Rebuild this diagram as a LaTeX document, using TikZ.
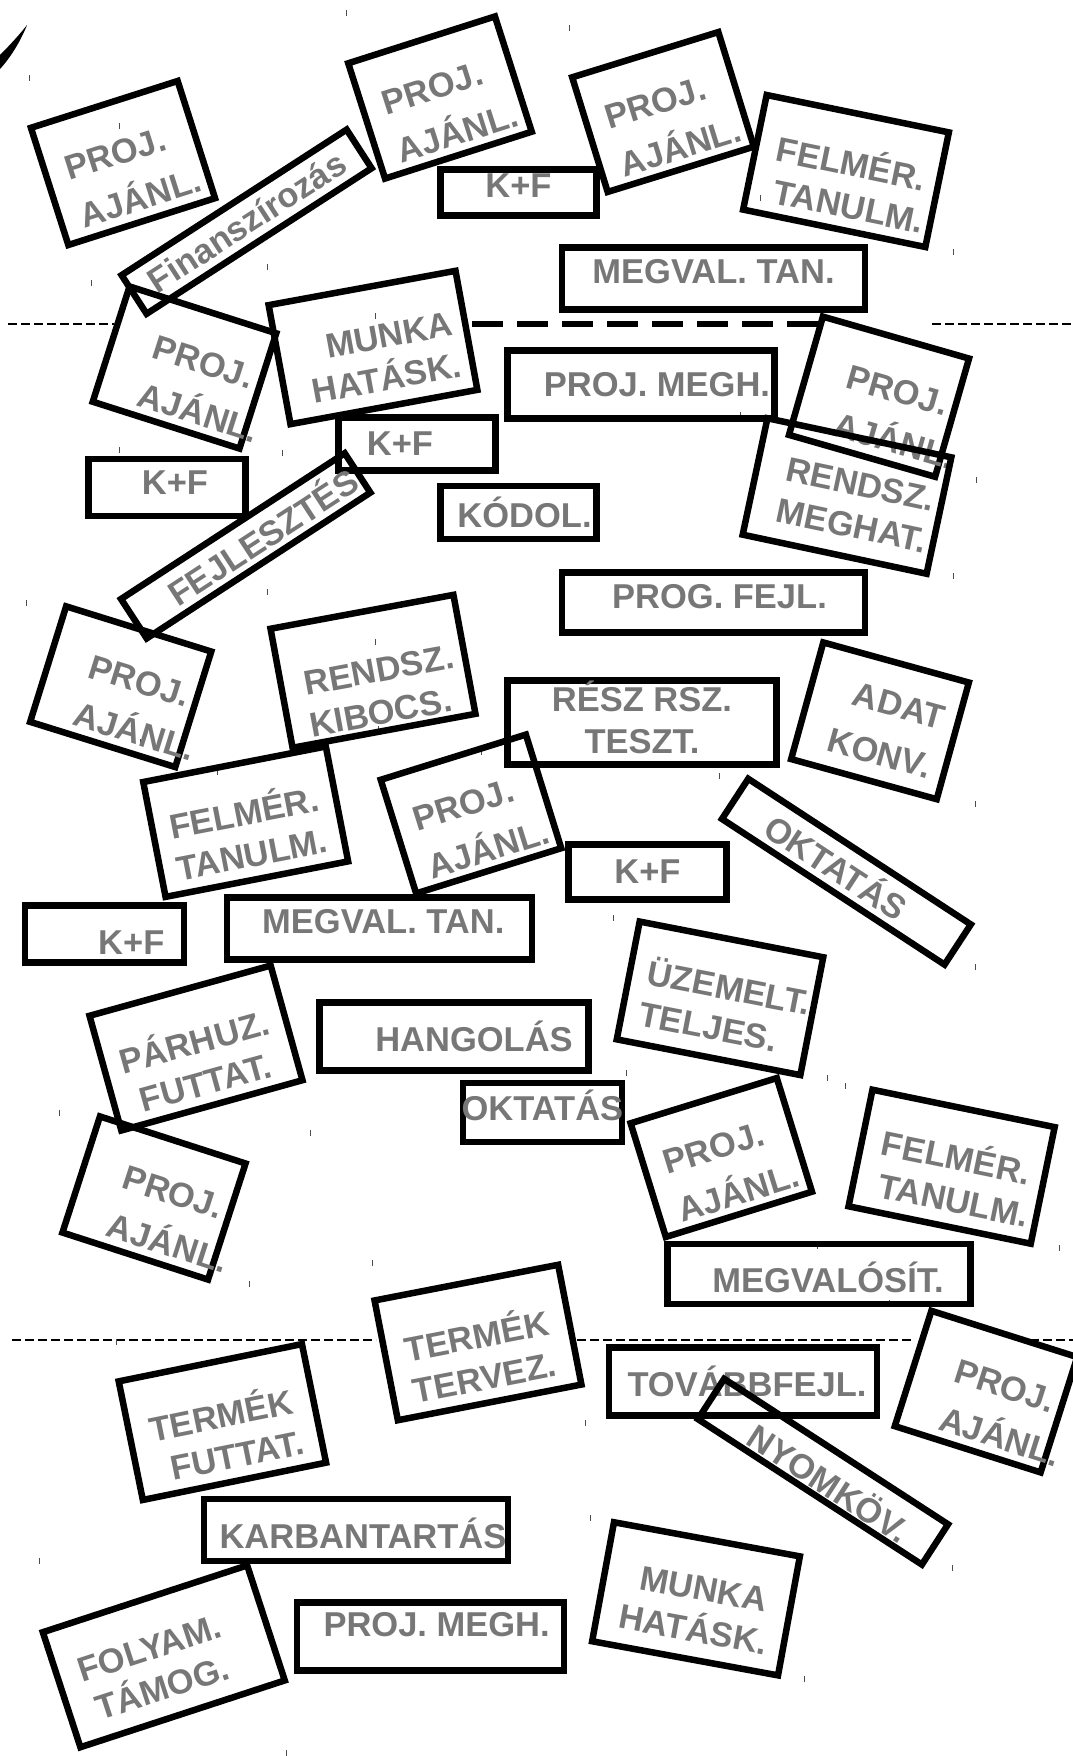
\documentclass[tikz,border=0pt]{standalone}
\usepackage{fontspec}
\setmainfont{Liberation Sans}
\usepackage{xcolor}

\definecolor{cardgray}{RGB}{119,119,119}
\newcommand{\cardfont}{\fontsize{34.5pt}{42pt}\selectfont\bfseries}
\newcommand{\topgap}[1]{\rule{0pt}{#1}}
\newcommand{\nudge}[2]{\hspace*{#1}#2\hspace*{-#1}}

\tikzset{
  card/.style={draw, line width=6.5pt, inner sep=0pt, align=center, font=\cardfont, text=cardgray},
  wh/.style 2 args={minimum width=#1pt, minimum height=#2pt},
  thindash/.style={line width=1.3pt, dash pattern=on 9pt off 4pt},
  thickdash/.style={line width=6.5pt, dash pattern=on 31pt off 14pt},
  tick/.style={line width=0.9pt, black!70},
}

\begin{document}
\begin{tikzpicture}[x=1pt, y=-1pt]
    \useasboundingbox (0,0) rectangle (1073,1756);

    % L'arc en haut a gauche
    \fill (0,55) .. controls (10,45) and (20,34) .. (27,25) .. controls (22,38) and (12,56) .. (0,69) -- cycle;

    % Les lignes pointillees
    \draw[thindash] (8,324) -- (114,324);
    \draw[thickdash] (472,324) -- (821,324);
    \draw[thindash] (932,324) -- (1073,324);
    \draw[thindash] (12,1340) -- (376,1340);
    \draw[thindash] (577,1340) -- (914,1340);
    \draw[thindash] (1030,1340) -- (1073,1340);

    % Les petits traits
    \foreach \tx/\ty in {346/13, 29/78, 119/126, 267/267, 91/283, 375/316, 569/28, 760/198,
      953/252, 740/415, 119/450, 282/453, 26/603, 267/592, 375/642, 378/729, 140/742,
      217/772, 481/752, 976/480, 953/576, 785/632, 719/776, 975/804, 59/1113, 310/1133,
      372/1263, 249/1284, 613/918, 975/967, 626/1073, 827/1078, 845/1086, 1059/1248,
      817/1246, 889/1303, 116/1342, 39/1561, 286/1753, 585/1423, 590/1518, 952/1568, 804/1679}
      \draw[tick] (\tx,\ty-3) -- (\tx,\ty+3);

    % Rangee du haut
    \node[card, wh={154}{123}, rotate=17.7, align=left] (pa1) at (123,163) {\topgap{52pt}\nudge{6pt}{PROJ.}\\[8pt]\nudge{6pt}{AJÁNL.}};
    \node[card, wh={154}{121}, rotate=17.7, align=left] (pa2) at (440,97.5) {\topgap{52pt}\nudge{6pt}{PROJ.}\\[8pt]\nudge{6pt}{AJÁNL.}};
    \node[card, wh={268}{46}, rotate=32.9] (fin) at (246.6,221.7) {Finanszírozás};
    \node[card, wh={153}{120}, rotate=17.2, align=left] (pa3) at (663,112) {\topgap{52pt}\nudge{6pt}{PROJ.}\\[8pt]\nudge{6pt}{AJÁNL.}};
    \node[card, wh={186}{117}, rotate=-11.6] (fel1) at (846,171) {\topgap{51pt}\nudge{4pt}{FELMÉR.}\\\nudge{10pt}{TANULM.}};
    \node[card, wh={156}{46}, text depth=14pt] (kf1) at (518.5,192.5) {K+F};
    \node[card, wh={303}{62}, text depth=14pt] (mv1) at (713.5,278.3) {MEGVAL. TAN.};

    % Deuxieme rangee
    \node[card, wh={154}{121}, rotate=-17.7, align=left] (pa4) at (184.5,367.5) {\topgap{52pt}\nudge{27pt}{PROJ.}\\[8pt]\nudge{27pt}{AJÁNL.}};
    \node[card, wh={190}{121}, rotate=10.4] (mh1) at (373,347.5) {\topgap{48pt}\nudge{18pt}{MUNKA}\\\nudge{8pt}{HATÁSK.}};
    \node[card, wh={267}{68}] (pm1) at (641,384.5) {\nudge{16pt}{PROJ. MEGH.}};
    \node[card, wh={152}{123}, rotate=-16, align=left] (pa5) at (879,396.7) {\topgap{52pt}\nudge{27pt}{PROJ.}\\[8pt]\nudge{27pt}{AJÁNL.}};
    \node[card, wh={188}{119}, rotate=-12] (rm) at (847,496) {\topgap{38pt}\nudge{11pt}{RENDSZ.}\\\nudge{11pt}{MEGHAT.}};
    \node[card, wh={157}{53}] (kf2) at (417,444) {\nudge{-17pt}{K+F}};
    \node[card, wh={157}{57}, text depth=9pt] (kf3) at (167,487.5) {\nudge{8pt}{K+F}};
    \node[card, wh={156}{53}] (kod) at (518.5,512.5) {\nudge{6pt}{KÓDOL.}};
    \node[card, wh={267}{47}, rotate=33.1] (fej) at (245.7,545.8) {\nudge{19pt}{FEJLESZTÉS}};
    \node[card, wh={303}{60}, text depth=12pt] (pg) at (713.5,602.5) {\nudge{6pt}{PROG. FEJL.}};

    % Troisieme rangee
    \node[card, wh={152}{121}, rotate=-17.3, align=left] (pa6) at (120.7,686.7) {\topgap{52pt}\nudge{27pt}{PROJ.}\\[8pt]\nudge{27pt}{AJÁNL.}};
    \node[card, wh={186}{121}, rotate=10.5] (rk) at (373,671.3) {\topgap{66pt}\nudge{6pt}{RENDSZ.}\\KIBOCS.};
    \node[card, wh={269}{84}] (rsz) at (642,722.5) {\topgap{20pt}\smash{RÉSZ RSZ.}\\TESZT.};
    \node[card, wh={151}{121}, rotate=-15.4, align=right] (ak) at (880,720.8) {\topgap{36pt}\nudge{8pt}{ADAT}\\[9pt]\nudge{8pt}{KONV.}};
    \node[card, wh={186}{117}, rotate=11] (fel2) at (245.7,821.7) {\topgap{50pt}FELMÉR.\\TANULM.};
    \node[card, wh={152}{119}, rotate=17.3, align=left] (pa7) at (471,814) {\topgap{52pt}\nudge{6pt}{PROJ.}\\[8pt]\nudge{6pt}{AJÁNL.}};
    \node[card, wh={158}{55}] (kf4) at (647.5,872) {K+F};
    \node[card, wh={266}{48}, rotate=-33.2] (okt1) at (846.4,871.7) {\nudge{-11pt}{OKTATÁS}};
    \node[card, wh={159}{57}, text height=41pt] (kf5) at (104.3,934) {\nudge{27pt}{K+F}};
    \node[card, wh={305}{62}, text depth=14pt] (mv2) at (379.3,928.3) {\nudge{4pt}{MEGVAL. TAN.}};

    % Quatrieme rangee
    \node[card, wh={188}{119}, rotate=15.5] (ph) at (196,1048) {\topgap{55pt}PÁRHUZ.\\FUTTAT.};
    \node[card, wh={269}{68}] (hang) at (454,1036.7) {\nudge{20pt}{HANGOLÁS}};
    \node[card, wh={187}{120}, rotate=-11, align=left] (uz) at (720,998.3) {\topgap{43pt}\nudge{7pt}{ÜZEMELT.}\\\nudge{7pt}{TELJES.}};
    \node[card, wh={159}{59}, text depth=14pt] (okt2) at (542.4,1112.4) {\makebox[0pt]{OKTATÁS}};
    \node[card, wh={153}{122}, rotate=-17.9, align=left] (pa8) at (154,1198) {\topgap{52pt}\nudge{27pt}{PROJ.}\\[8pt]\nudge{27pt}{AJÁNL.}};
    \node[card, wh={153}{119}, rotate=17.2, align=left] (pa9) at (721.3,1157.5) {\topgap{52pt}\nudge{6pt}{PROJ.}\\[8pt]\nudge{6pt}{AJÁNL.}};
    \node[card, wh={186}{119}, rotate=-11.6] (fel3) at (951.6,1166.7) {\topgap{48pt}\nudge{3pt}{FELMÉR.}\\\nudge{9pt}{TANULM.}};
    \node[card, wh={303}{60}, text height=36pt] (mvs) at (819,1274.2) {\nudge{9pt}{MEGVALÓSÍT.}};

    % Rangee du bas
    \node[card, wh={187}{121}, rotate=11.5] (tf) at (222.4,1422) {\topgap{54pt}TERMÉK\\\nudge{8pt}{FUTTAT.}};
    \node[card, wh={187}{122}, rotate=11] (tt) at (478,1342.5) {\topgap{54pt}TERMÉK\\TERVEZ.};
    \node[card, wh={268}{68}] (tov) at (743,1381.7) {\nudge{4pt}{TOVÁBBFEJL.}};
    \node[card, wh={267}{48}, rotate=-33, text height=39pt] (nyk) at (823,1471.7) {\nudge{11pt}{NYOMKÖV.}};
    \node[card, wh={153}{121}, rotate=-17.6, align=left] (pa10) at (986,1391.6) {\topgap{52pt}\nudge{27pt}{PROJ.}\\[8pt]\nudge{27pt}{AJÁNL.}};
    \node[card, wh={304}{62}, text height=38pt] (karb) at (356,1530) {\nudge{7pt}{KARBANTARTÁS}};
    \node[card, wh={215}{121}, rotate=18.1] (fol) at (163.8,1656.3) {\topgap{42pt}\nudge{-11pt}{FOLYAM.}\\\nudge{-11pt}{TÁMOG.}};
    \node[card, wh={267}{68}, text depth=25pt] (pm2) at (430.6,1636.7) {\nudge{6pt}{PROJ. MEGH.}};
    \node[card, wh={189}{121}, rotate=-10.4] (mh2) at (696,1598.8) {\topgap{44pt}\nudge{6pt}{MUNKA}\\\nudge{3pt}{HATÁSK.}};
\end{tikzpicture}
\end{document}
